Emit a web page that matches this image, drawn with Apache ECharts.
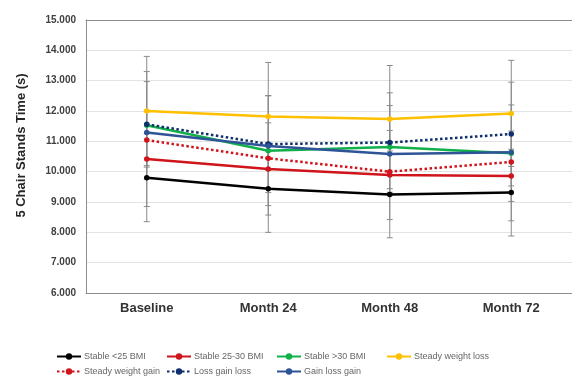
<!DOCTYPE html>
<html>
<head>
<meta charset="utf-8">
<script src="https://cdn.jsdelivr.net/npm/echarts@6/dist/echarts.min.js"></script>
<style>html,body{margin:0;padding:0;background:#fff;}#c{width:572px;height:379px;}</style>
</head>
<body>
<div id="c"></div>
<script>
const categories = ['Baseline', 'Month 24', 'Month 48', 'Month 72'];
const yTicks = [6, 7, 8, 9, 10, 11, 12, 13, 14, 15];

const stableUnder25 = [9.80, 9.44, 9.25, 9.31];
const stable25to30 = [10.42, 10.09, 9.89, 9.86];
const stableOver30 = [11.53, 10.69, 10.81, 10.61];
const steadyLoss = [12.00, 11.82, 11.74, 11.92];
const steadyGain = [11.04, 10.44, 10.00, 10.32];
const lossGainLoss = [11.56, 10.91, 10.96, 11.24];
const gainLossGain = [11.29, 10.85, 10.58, 10.64];

// error bar half-widths (SD) read from the caps
const sdStableUnder25 = [1.45, 1.44, 1.43, 1.43];
const sdStable25to30 = [1.57, 1.52, 1.47, 1.48];
const sdStableOver30 = [1.77, 1.81, 1.37, 1.59];
const sdSteadyLoss = [1.80, 1.78, 1.76, 1.75];
const sdLossGainLoss = [1.41, 1.60, 1.64, 1.71];

const errPairs = [
  [stableUnder25, sdStableUnder25],
  [stable25to30, sdStable25to30],
  [stableOver30, sdStableOver30],
  [steadyLoss, sdSteadyLoss],
  [lossGainLoss, sdLossGainLoss]
];
const errData = [];
errPairs.forEach(([vals, sds]) => {
  vals.forEach((v, i) => errData.push([i, v - sds[i], v + sds[i]]));
});

const chart = echarts.init(document.getElementById('c'), null, {renderer: 'canvas'});
const FONT = 'Liberation Sans, Arial, sans-serif';

function lineSeries(name, data, color, dotted) {
  return {
    name: name, type: 'line', data: data, z: 3,
    symbol: 'circle', symbolSize: 5.5,
    itemStyle: {color: color},
    lineStyle: {color: color, width: 2.5, type: dotted ? [2.5, 2.5] : 'solid'},
    emphasis: {disabled: true}
  };
}

const seriesDefs = [
  ['Stable <25 BMI', stableUnder25, '#000000', false],
  ['Stable 25-30 BMI', stable25to30, '#D0141B', false],
  ['Stable >30 BMI', stableOver30, '#11B04A', false],
  ['Steady weight loss', steadyLoss, '#FFC000', false],
  ['Steady weight gain', steadyGain, '#D0141B', true],
  ['Loss gain loss', lossGainLoss, '#0F2E6E', true],
  ['Gain loss gain', gainLossGain, '#2E5497', false]
];

const legendPos = [[51, 347], [161, 347], [271, 347], [381, 347], [51, 362], [161, 362], [271, 362]];

const series = [{
  type: 'custom', z: 1, silent: true,
  data: errData,
  renderItem: function (params, api) {
    const x = api.value(0);
    const lo = api.coord([x, api.value(1)]);
    const hi = api.coord([x, api.value(2)]);
    const cw = 3;
    const st = {stroke: '#8a8a8a', lineWidth: 1};
    return {
      type: 'group',
      children: [
        {type: 'line', shape: {x1: lo[0], y1: lo[1], x2: hi[0], y2: hi[1]}, style: st},
        {type: 'line', shape: {x1: lo[0] - cw, y1: lo[1], x2: lo[0] + cw, y2: lo[1]}, style: st},
        {type: 'line', shape: {x1: hi[0] - cw, y1: hi[1], x2: hi[0] + cw, y2: hi[1]}, style: st}
      ]
    };
  }
}].concat(seriesDefs.map(d => lineSeries(d[0], d[1], d[2], d[3])));

const legends = seriesDefs.map((d, i) => ({
  data: [d[0]],
  left: legendPos[i][0], top: legendPos[i][1],
  itemWidth: 24, itemHeight: 8,
  selectedMode: false,
  textStyle: {fontSize: 9, color: '#666666', fontFamily: FONT, padding: [0, 0, 0, -2]}
}));

chart.setOption({
  animation: false,
  backgroundColor: '#ffffff',
  grid: {left: 86, top: 20, width: 492, height: 273, show: false},
  legend: legends,
  xAxis: [{
    type: 'category', data: categories, boundaryGap: true,
    axisLine: {lineStyle: {color: '#8c8c8c', width: 1}},
    axisTick: {show: false},
    axisLabel: {fontSize: 13, fontWeight: 'bold', color: '#333333', margin: 9, fontFamily: FONT}
  }, {
    type: 'category', data: categories, position: 'top', boundaryGap: true,
    axisLine: {show: true, lineStyle: {color: '#8c8c8c', width: 1}},
    axisTick: {show: false}, axisLabel: {show: false}, splitLine: {show: false}
  }],
  yAxis: {
    type: 'value', min: yTicks[0], max: yTicks[yTicks.length - 1], interval: 1,
    name: '5 Chair Stands Time (s)', nameLocation: 'middle', nameGap: 58, nameRotate: 90,
    nameTextStyle: {fontSize: 13, fontWeight: 'bold', color: '#262626', fontFamily: FONT, padding: [0, 0, 0, 22]},
    axisLine: {show: true, lineStyle: {color: '#8c8c8c'}},
    axisTick: {show: false},
    splitLine: {lineStyle: {color: '#e3e3e3', width: 1}},
    axisLabel: {fontSize: 10, fontWeight: 'bold', color: '#404040', margin: 10, fontFamily: FONT,
      formatter: v => v.toFixed(3)}
  },
  series: series
});
</script>
</body>
</html>
